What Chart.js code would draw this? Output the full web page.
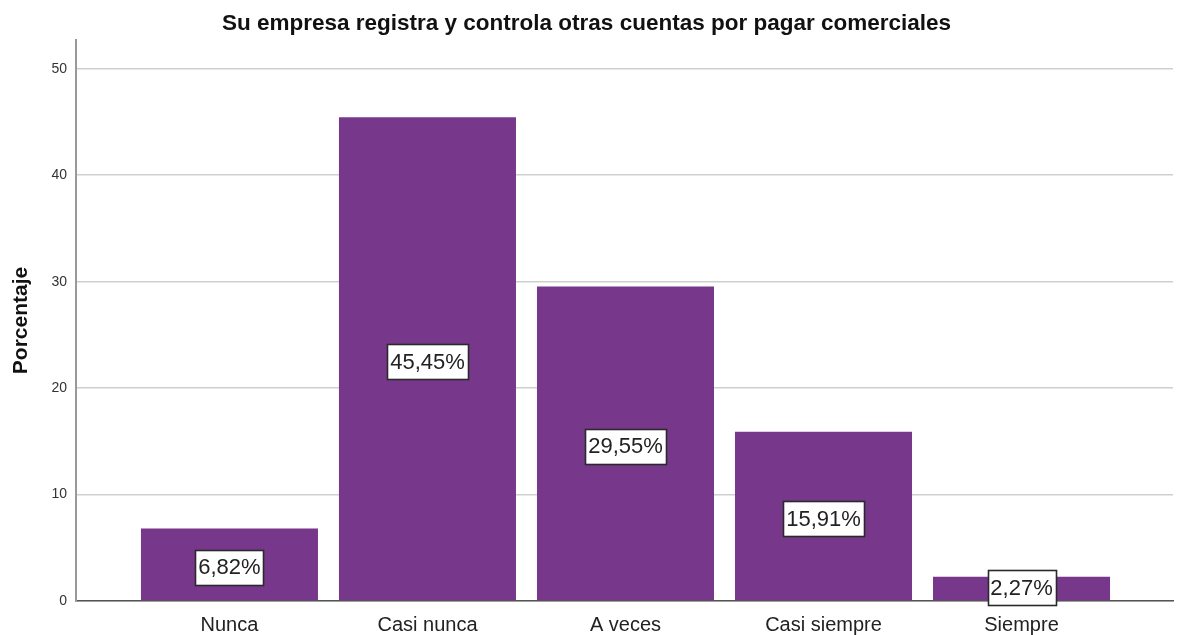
<!DOCTYPE html>
<html>
<head>
<meta charset="utf-8">
<script src="https://cdn.jsdelivr.net/npm/chart.js@4/dist/chart.umd.min.js"></script>
<style>
  body { margin: 0; background: #fff; }
  canvas { display: block; }
</style>
</head>
<body>
<canvas id="barChart" width="1178" height="635"></canvas>
<script>
const categorias = ['Nunca', 'Casi nunca', 'A veces', 'Casi siempre', 'Siempre'];
const porcentajes = [6.82, 45.45, 29.55, 15.91, 2.27];
const etiquetas = ['6,82%', '45,45%', '29,55%', '15,91%', '2,27%'];
const ticksY = [0, 10, 20, 30, 40, 50];

const fuente = "'Liberation Sans', Arial, sans-serif";

// cajitas blancas con el porcentaje en medio de cada barra
const etiquetasPlugin = {
	id: 'etiquetas',
	afterDatasetsDraw(chart) {
		const ctx = chart.ctx;
		const meta = chart.getDatasetMeta(0);
		ctx.save();
		ctx.font = '22px ' + fuente;
		ctx.textAlign = 'center';
		ctx.textBaseline = 'middle';
		meta.data.forEach(function (bar, i) {
			const txt = etiquetas[i];
			const h = 35;
			// centro de la barra, sin salirse mucho del eje
			const cy = Math.min((bar.y + bar.base) / 2 + 3, bar.base + 5 - h / 2);
			const w = Math.round(ctx.measureText(txt).width + 6);
			const x0 = Math.round(bar.x - w / 2);
			const y0 = Math.round(cy - h / 2);
			ctx.fillStyle = '#ffffff';
			ctx.fillRect(x0, y0, w, h);
			ctx.strokeStyle = '#2a2a2a';
			ctx.lineWidth = 1.6;
			ctx.strokeRect(x0 + 0.5, y0 + 0.5, w, h);
			ctx.fillStyle = '#222222';
			ctx.fillText(txt, bar.x, cy + 1);
		});
		ctx.restore();
	}
};

const data = {
	datasets: [{
		data: porcentajes.map(function (v, i) { return { x: i, y: v }; }),
		backgroundColor: '#77378b',
		borderWidth: 0,
		categoryPercentage: 1,
		barPercentage: 0.894
	}]
};

const config = {
	type: 'bar',
	data: data,
	options: {
		responsive: false,
		animation: false,
		layout: { padding: { right: 5 } },
		plugins: {
			legend: { display: false },
			tooltip: { enabled: false },
			title: {
				display: true,
				text: 'Su empresa registra y controla otras cuentas por pagar comerciales',
				color: '#111',
				font: { family: fuente, size: 22.5, weight: 'bold' },
				padding: { top: 10, bottom: 3 }
			}
		},
		scales: {
			x: {
				type: 'linear',
				offset: false,
				min: -0.775,
				max: 4.765,
				afterBuildTicks: function (s) {
					s.ticks = categorias.map(function (c, i) { return { value: i }; });
				},
				afterFit: function (s) { s.height = 34; },
				grid: { display: false, drawTicks: false },
				border: { display: true, color: '#555', width: 1.5 },
				ticks: {
					autoSkip: false,
					maxRotation: 0,
					padding: 12,
					color: '#222',
					font: { family: fuente, size: 20 },
					callback: function (v) { return categorias[v]; }
				}
			},
			y: {
				min: 0,
				max: 52.7,
				afterBuildTicks: function (s) {
					s.ticks = ticksY.map(function (v) { return { value: v }; });
				},
				afterFit: function (s) { s.width = 76; },
				grid: { color: '#cfcfcf', lineWidth: 1.5, drawTicks: false },
				border: { display: true, color: '#999', width: 2 },
				title: {
					display: true,
					text: 'Porcentaje',
					color: '#111',
					font: { family: fuente, size: 21, weight: 'bold' },
					padding: { top: 9 }
				},
				ticks: {
					padding: 9,
					color: '#333',
					font: { family: fuente, size: 14 }
				}
			}
		}
	},
	plugins: [etiquetasPlugin]
};

const myChart = new Chart(document.getElementById('barChart'), config);
</script>
</body>
</html>
